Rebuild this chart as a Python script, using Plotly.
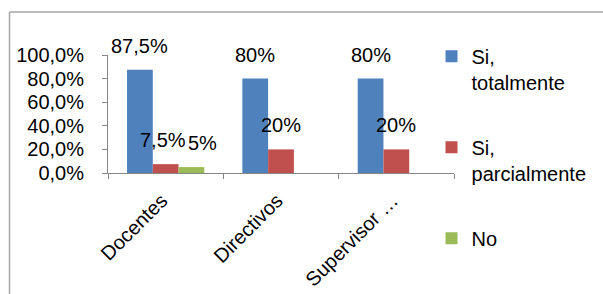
import plotly.graph_objects as go

categories = ["Docentes", "Directivos", "Supervisor …"]
series_names = ["Si,<br>totalmente", "Si,<br>parcialmente", "No"]
totalmente = [0.875, 0.80, 0.80]
parcialmente = [0.075, 0.20, 0.20]
no = [0.05, None, None]
labels_tot = ["87,5%", "80%", "80%"]
labels_par = ["7,5%", "20%", "20%"]
labels_no = ["5%", "", ""]

colors = ["#4F81BD", "#C0504D", "#9BBB59"]
values = [totalmente, parcialmente, no]
labels = [labels_tot, labels_par, labels_no]

FONT = "Liberation Sans"
W, H = 603, 294
ML, MR, MT, MB = 108, 149, 55, 121
bargap = 0.33

fig = go.Figure()
for k, (name, vals, col) in enumerate(zip(series_names, values, colors)):
    fig.add_trace(go.Bar(
        x=categories, y=vals, name=name, marker_color=col,
        marker_line_width=0, legendgroup=f"g{k}",
    ))

bw = (1 - bargap) / 3
annotations = []
for k in range(3):
    for i in range(len(categories)):
        v = values[k][i]
        t = labels[k][i]
        if v is None or not t:
            continue
        xs = 11 if (k == 2) else (-3 if k == 1 and i == 0 else 0)
        annotations.append(dict(
            x=i + (k - 1) * bw, y=v, xref="x", yref="y", text=t,
            showarrow=False, yshift=24, xshift=xs,
            font=dict(family=FONT, size=20, color="black"),
        ))

pw = W - ML - MR
ph = H - MT - MB
def px_x(p):
    return (p - ML) / pw
def px_y(p):
    return (H - MB - p) / ph

shapes = [
    dict(type="line", xref="paper", yref="paper",
         x0=px_x(9.5), x1=px_x(603), y0=px_y(12), y1=px_y(12),
         line=dict(color="#a6a6a6", width=1.5)),
    dict(type="line", xref="paper", yref="paper",
         x0=px_x(9.5), x1=px_x(9.5), y0=px_y(12), y1=px_y(300),
         line=dict(color="#a6a6a6", width=1.5)),
]

fig.update_layout(
    width=W, height=H,
    margin=dict(l=ML, r=MR, t=MT, b=MB, autoexpand=False),
    paper_bgcolor="white", plot_bgcolor="white",
    barmode="group", bargap=bargap, bargroupgap=0,
    separators=",.",
    font=dict(family=FONT, size=20, color="black"),
    showlegend=True,
    legend=dict(x=0.935, y=1.155, xanchor="left", yanchor="top",
                font=dict(family=FONT, size=20), tracegroupgap=36,
                valign="top", itemwidth=30, bgcolor="rgba(0,0,0,0)",
                maxheight=290),
    annotations=annotations,
    shapes=shapes,
    xaxis=dict(type="category", showline=True, linecolor="#868686", linewidth=1,
               ticks="outside", tickson="boundaries", ticklen=5, tickcolor="#868686",
               tickangle=-45, tickfont=dict(family=FONT, size=20),
               ticklabelstandoff=7, ticklabelshift=-4,
               showgrid=False, zeroline=False, automargin=False),
    yaxis=dict(range=[0, 1], tickvals=[0, 0.2, 0.4, 0.6, 0.8, 1.0], tickformat=".1%",
               showline=True, linecolor="#868686", linewidth=1,
               ticks="outside", ticklen=5, tickcolor="#868686",
               tickfont=dict(family=FONT, size=20), ticklabelstandoff=14,
               showgrid=False, zeroline=False, automargin=False),
)

fig.write_html("out.html", config={"displayModeBar": False},
               post_script="document.body.style.margin='0';")
